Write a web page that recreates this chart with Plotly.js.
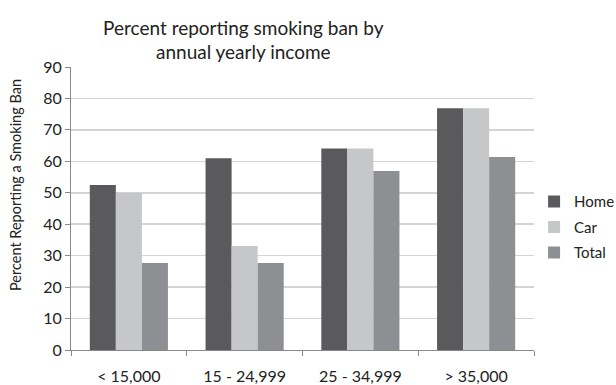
<!DOCTYPE html>
<html><head><meta charset="utf-8">
<script src="https://cdn.plot.ly/plotly-3.0.1.min.js"></script>
<style>body{margin:0;}#chart{width:616px;height:385px;}</style>
</head><body><div id="chart"></div>
<script>
const categories = ["< 15,000", "15 - 24,999", "25 - 34,999", "> 35,000"];
const homeValues = [52.5, 61, 64.1, 76.9];
const carValues = [50, 33.1, 64.1, 76.9];
const totalValues = [27.7, 27.7, 56.9, 61.4];
const seriesNames = ["Home", "Car", "Total"];
const seriesColors = ["#5a5a5c", "#c6c7c9", "#8e8f92"];
const yTicks = [0, 10, 20, 30, 40, 50, 60, 70, 80, 90];

const font = "Lato, 'Open Sans', sans-serif";
const allValues = [homeValues, carValues, totalValues];
const traces = allValues.map((v, i) => ({
  type: "bar", x: categories, y: v, name: seriesNames[i], legendgroup: seriesNames[i],
  marker: {color: seriesColors[i]}
}));

const layout = {
  width: 616, height: 385,
  margin: {l: 71, r: 82, t: 67, b: 35},
  paper_bgcolor: "#ffffff", plot_bgcolor: "#ffffff",
  font: {family: font, color: "#222222"},
  title: {text: "Percent reporting smoking ban by<br>annual yearly income",
          font: {size: 19, family: font, color: "#222"},
          x: 0.395, xref: "container", xanchor: "center",
          y: 0.91, yref: "container", yanchor: "middle"},
  barmode: "group", bargap: 0.325, bargroupgap: 0,
  showlegend: true,
  legend: {xref: "container", yref: "container", x: 0.867, xanchor: "left",
           y: 0.41, yanchor: "middle", borderwidth: 0,
           font: {size: 15, family: font, color: "#222"}, tracegroupgap: 3,
           traceorder: "grouped", itemwidth: 30},
  xaxis: {type: "category", showline: true, linecolor: "#888", linewidth: 1,
          ticks: "outside", ticklen: 5, tickcolor: "#888", tickson: "boundaries",
          ticklabelstandoff: 12, automargin: false,
          tickfont: {size: 16, family: font, color: "#222"}, showgrid: false},
  yaxis: {range: [0, 90], tickvals: yTicks, showline: true, linecolor: "#888",
          gridcolor: "#d4d4d4", gridwidth: 1.5, zeroline: false, automargin: false,
          ticks: "outside", ticklen: 5, tickcolor: "#888",
          tickfont: {size: 16, family: font, color: "#222"}},
  annotations: [{text: "Percent Reporting a Smoking Ban", textangle: -90,
                 xref: "paper", yref: "paper", x: -0.121, y: 0.583,
                 xanchor: "center", yanchor: "middle", showarrow: false,
                 font: {size: 14.5, family: font, color: "#222"}}]
};
Plotly.newPlot("chart", traces, layout, {displayModeBar: false, staticPlot: true});
</script></body></html>
